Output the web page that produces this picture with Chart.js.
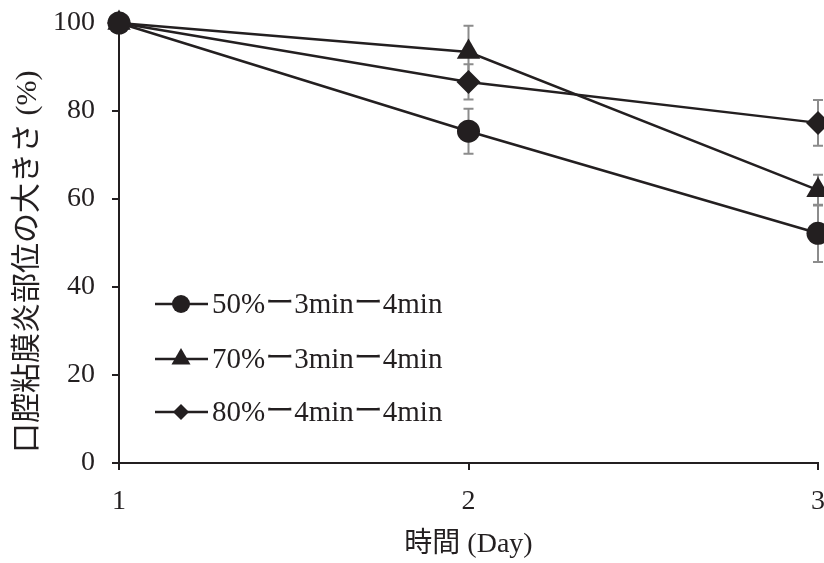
<!DOCTYPE html>
<html>
<head>
<meta charset="utf-8">
<script src="https://cdn.jsdelivr.net/npm/chart.js@4/dist/chart.umd.min.js"></script>
<style>
  html, body { margin: 0; padding: 0; background: #fff; }
  #wrap { width: 824px; height: 563px; position: relative; }
</style>
</head>
<body>
<div id="wrap"><canvas id="sizeChart"></canvas></div>
<script>
// 日数
const days = [1, 2, 3];
// 系列ラベル
const seriesLabels = ["50%ー3minー4min", "70%ー3minー4min", "80%ー4minー4min"];
// 口腔粘膜炎部位の大きさ (%)
const size50 = [100, 75.4, 52.2];
const size70 = [100, 93.4, 62.0];
const size80 = [100, 86.6, 77.3];
// 誤差
const err50 = [0, 5.1, 6.5];
const err70 = [0, 6.0, 3.5];
const err80 = [0, 4.0, 5.2];
// 目盛り
const yTicks = [0, 20, 40, 60, 80, 100];

const INK = "#231f20";
const SERIF = "'Liberation Serif', 'Times New Roman', 'Noto Sans CJK JP', serif";

function toPoints(values) {
  return values.map((v, i) => ({ x: days[i], y: v }));
}

/**
 * 凡例のマーカーを描く
 */
function drawMarker(ctx, style, x, y, r) {
  ctx.beginPath();
  if (style === "circle") {
    ctx.arc(x, y, r, 0, Math.PI * 2);
  } else if (style === "triangle") {
    ctx.moveTo(x, y - r);
    ctx.lineTo(x + r * 0.866, y + r * 0.5);
    ctx.lineTo(x - r * 0.866, y + r * 0.5);
    ctx.closePath();
  } else {
    ctx.moveTo(x, y - r);
    ctx.lineTo(x + r, y);
    ctx.lineTo(x, y + r);
    ctx.lineTo(x - r, y);
    ctx.closePath();
  }
  ctx.fill();
}

// エラーバー
const errorBars = {
  id: "errorBars",
  beforeDatasetsDraw(chart) {
    const { ctx, scales: { x, y } } = chart;
    ctx.save();
    ctx.strokeStyle = "#8c8c8c";
    ctx.lineWidth = 2;
    chart.data.datasets.forEach((ds) => {
      ds.data.forEach((p, i) => {
        const e = ds.errors[i];
        if (!e) return;
        const px = x.getPixelForValue(p.x);
        const top = y.getPixelForValue(p.y + e);
        const bot = y.getPixelForValue(p.y - e);
        ctx.beginPath();
        ctx.moveTo(px, top);
        ctx.lineTo(px, bot);
        ctx.moveTo(px - 5, top);
        ctx.lineTo(px + 5, top);
        ctx.moveTo(px - 5, bot);
        ctx.lineTo(px + 5, bot);
        ctx.stroke();
      });
    });
    ctx.restore();
  },
};

// グラフ内の凡例
const insideLegend = {
  id: "insideLegend",
  afterDraw(chart) {
    const ctx = chart.ctx;
    const rows = [304, 359, 412];
    const sizes = [9, 11, 8];
    ctx.save();
    ctx.fillStyle = INK;
    ctx.strokeStyle = INK;
    ctx.lineWidth = 2.5;
    ctx.font = "29px " + SERIF;
    ctx.textBaseline = "middle";
    chart.data.datasets.forEach((ds, i) => {
      const y = rows[i];
      ctx.beginPath();
      ctx.moveTo(155, y);
      ctx.lineTo(208, y);
      ctx.stroke();
      drawMarker(ctx, ds.pointStyle, 181, y, sizes[i]);
      ctx.fillText(ds.label, 212, y + 1);
    });
    ctx.restore();
  },
};

const ctx = document.getElementById("sizeChart").getContext("2d");
new Chart(ctx, {
  type: "line",
  data: {
    datasets: [
      {
        label: seriesLabels[0],
        data: toPoints(size50),
        errors: err50,
        pointStyle: "circle",
        pointRadius: 11.5,
      },
      {
        label: seriesLabels[1],
        data: toPoints(size70),
        errors: err70,
        pointStyle: "triangle",
        pointRadius: 13.5,
      },
      {
        label: seriesLabels[2],
        data: toPoints(size80),
        errors: err80,
        pointStyle: "rectRot",
        pointRadius: 12,
      },
    ].map((d) => ({
      ...d,
      borderColor: INK,
      backgroundColor: INK,
      pointBackgroundColor: INK,
      pointBorderColor: INK,
      pointBorderWidth: 0,
      borderWidth: 2.5,
      tension: 0,
      clip: false,
    })),
  },
  options: {
    responsive: true,
    maintainAspectRatio: false,
    animation: false,
    layout: { autoPadding: false, padding: { top: 23, right: 6, left: 0, bottom: 0 } },
    plugins: {
      legend: { display: false },
      tooltip: { enabled: false },
    },
    scales: {
      x: {
        type: "linear",
        min: 1,
        max: 3,
        afterFit: (s) => {
          s.height = 100;
          s.paddingRight = 0;
          s.paddingLeft = 0;
        },
        afterBuildTicks: (s) => {
          s.ticks = days.map((v) => ({ value: v }));
        },
        border: { color: INK, width: 2 },
        grid: {
          drawOnChartArea: false,
          color: INK,
          lineWidth: 2,
          tickLength: 7,
        },
        ticks: {
          color: INK,
          padding: 15,
          font: { family: SERIF, size: 28 },
        },
        title: {
          display: true,
          text: "時間 (Day)",
          color: INK,
          padding: { top: 0, bottom: 2 },
          font: { family: SERIF, size: 28 },
        },
      },
      y: {
        min: 0,
        max: 100,
        afterFit: (s) => {
          s.width = 119;
          s.paddingTop = 0;
          s.paddingBottom = 0;
        },
        afterBuildTicks: (s) => {
          s.ticks = yTicks.map((v) => ({ value: v }));
        },
        border: { color: INK, width: 2 },
        grid: {
          drawOnChartArea: false,
          color: INK,
          lineWidth: 2,
          tickLength: 7,
        },
        ticks: {
          color: INK,
          padding: 17,
          font: { family: SERIF, size: 28 },
        },
        title: {
          display: true,
          text: "口腔粘膜炎部位の大きさ (%)\u3000 ",
          color: INK,
          padding: { top: 10, bottom: 0 },
          font: { family: SERIF, size: 30 },
        },
      },
    },
  },
  plugins: [errorBars, insideLegend],
});
</script>
</body>
</html>
